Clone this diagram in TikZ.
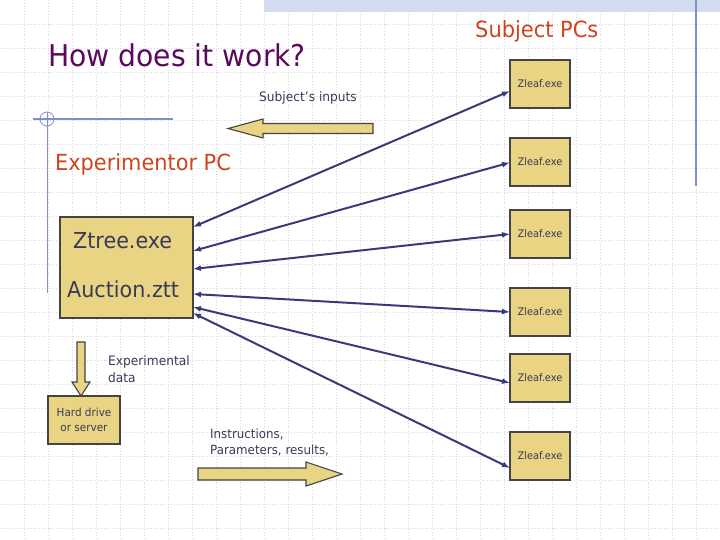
\documentclass[tikz,border=0pt]{standalone}
\usepackage{fontspec}
\setmainfont[FakeStretch=0.94]{DejaVu Sans}
\usepackage{xcolor}
\usetikzlibrary{arrows.meta, positioning, calc}

\definecolor{titlepurple}{HTML}{5A0A5A}
\definecolor{headred}{HTML}{CC4420}
\definecolor{boxfill}{HTML}{E8D483}
\definecolor{boxedge}{HTML}{444444}
\definecolor{linkblue}{HTML}{3A3A78}
\definecolor{notegray}{HTML}{3A3A58}
\definecolor{rulerblue}{HTML}{7F8FC8}
\definecolor{barblue}{HTML}{D2DCEE}
\definecolor{gridgray}{HTML}{D6D6DE}

\begin{document}
\begin{tikzpicture}[
    x=1pt, y=-1pt,
    node distance=24pt,
    gridline/.style={draw=gridgray, line width=0.8pt, dotted},
    pcbox/.style={rectangle, draw=boxedge, fill=boxfill, line width=1.2pt, minimum width=133pt, minimum height=101pt, inner sep=0pt, outer sep=0pt},
    leafbox/.style={rectangle, draw=boxedge, fill=boxfill, line width=1.2pt, minimum width=60pt, minimum height=48pt, inner sep=0pt, outer sep=0pt, text=notegray, font=\fontsize{10.4}{12}\selectfont},
    bigtext/.style={anchor=base west, inner sep=0pt, text=notegray, font=\fontsize{22}{26}\selectfont},
    note/.style={anchor=base west, inner sep=0pt, align=left, text=notegray, font=\fontsize{13}{17}\selectfont},
    blockarr/.style={draw=boxedge, fill=boxfill, line width=1.1pt, line join=miter},
    link/.style={{Latex[length=8pt,width=6pt]}-{Latex[length=8pt,width=6pt]}, line width=2pt, draw=linkblue},
    ruler/.style={draw=rulerblue, line width=1.2pt}
]
\useasboundingbox (0,0) rectangle (720,540);

% background grid
\foreach \k in {1,...,29} \draw[gridline] (24*\k,0) -- (24*\k,540);
\foreach \k in {1,...,22} \draw[gridline] (0,24*\k) -- (720,24*\k);

% slide decoration
\fill[barblue] (264,0) rectangle (720,12);
\draw[ruler] (696,0) -- (696,186);
\draw[ruler] (33,119) -- (173,119);
\draw[ruler] (47.5,112) -- (47.5,293);
\draw[ruler, line width=0.8pt] (47,119) circle (7);

% Titles
\node[anchor=base west, inner sep=0pt, text=titlepurple, font=\fontsize{30}{36}\selectfont] (title) at (48,67) {How does it work?};
\node[anchor=base west, inner sep=0pt, text=headred, font=\fontsize{22.3}{26}\selectfont] (subjpcs) at (475,37.5) {Subject PCs};
\node[anchor=base west, inner sep=0pt, text=headred, font=\fontsize{22.2}{26}\selectfont] (exppc) at (55,171) {Experimentor PC};

% Experimenter PC
\node[pcbox] (pc) at (126.5,267.5) {};
\node[bigtext] (ztree) at (73,248) {Ztree.exe};
\node[bigtext] (auction) at (67,297) {Auction.ztt};

% Subject PCs
\node[leafbox] (z1) at (540,84) {Zleaf.exe};
\node[leafbox, below=30pt of z1] (z2) {Zleaf.exe};
\node[leafbox, below=24pt of z2] (z3) {Zleaf.exe};
\node[leafbox, below=30pt of z3] (z4) {Zleaf.exe};
\node[leafbox, below=18pt of z4] (z5) {Zleaf.exe};
\node[leafbox, below=30pt of z5] (z6) {Zleaf.exe};

% Storage
\node[rectangle, draw=boxedge, fill=boxfill, line width=1.2pt, minimum width=72pt, minimum height=48pt, align=center, text=notegray, font=\fontsize{11.1}{15}\selectfont] (disk) at (84,420) {Hard drive\\or server};

% Labels
\node[note] (inputs) at (259,101.5) {Subject's inputs};
\node[note] (expdata) at (108,382) {Experimental\\data};
\node[note, font=\fontsize{12.6}{16}\selectfont] (instr) at (210,454) {Instructions,\\Parameters, results,};

% Block arrows
\draw[blockarr] (373,123.5) -- (263,123.5) -- (263,119) -- (228,128.5) -- (263,138) -- (263,133.5) -- (373,133.5) -- cycle;
\draw[blockarr] (77,342) -- (85,342) -- (85,382) -- (90,382) -- (81,396) -- (72,382) -- (77,382) -- cycle;
\draw[blockarr] (198,468) -- (306,468) -- (306,462) -- (342,474) -- (306,486) -- (306,480) -- (198,480) -- cycle;

% Connections
\foreach \i/\ly/\ry in {1/10/7, 2/34/0.5, 3/52/0, 4/77/0, 5/90/5, 6/96/12}
  \draw[link] ([yshift=-\ly pt]pc.north east) -- ([yshift=-\ry pt]z\i.west);

\end{tikzpicture}
\end{document}
